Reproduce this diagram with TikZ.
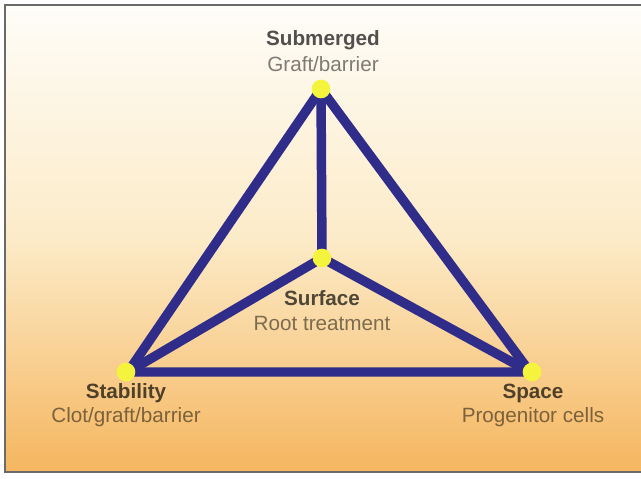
\documentclass[tikz,border=0pt]{standalone}
\usepackage{fontspec}
\setmainfont{Liberation Sans}
\definecolor{navy}{HTML}{302C8A}
\definecolor{dotyellow}{HTML}{F4F43C}
\definecolor{bgtop}{HTML}{FEFDF8}
\definecolor{bgmid}{HTML}{FCEBC8}
\definecolor{bgbot}{HTML}{F5B65F}
\definecolor{framegray}{HTML}{6A6A6A}
\tikzset{
  edge/.style={draw=navy, line width=7.1pt, line join=miter},
  vdot/.style={circle, fill=dotyellow, minimum size=14pt, inner sep=0pt},
  title/.style={font=\fontsize{15.5}{18}\selectfont\bfseries, text=black, text opacity=0.68},
  sub/.style={font=\fontsize{15.5}{18}\selectfont, text=black, text opacity=0.5}
}
\begin{document}
\begin{tikzpicture}[x=0.75pt,y=-0.75pt]
\useasboundingbox (0,0) rectangle (641,478);
\clip (0,0) rectangle (641,478);
\fill[white] (0,0) rectangle (641,478);
\shade[top color=bgtop, bottom color=bgbot, middle color=bgmid] (5,5) rectangle (648,472);
\draw[framegray, line width=1.5pt] (5,5) rectangle (648,472);
% vertices
\coordinate (T) at (321,89);
\coordinate (C) at (322,258);
\coordinate (L) at (128,372);
\coordinate (R) at (530,372);
% edges
\draw[edge] (L) -- (T) -- (R) -- cycle;
\draw[edge] (T) -- (C);
\draw[edge] (L) -- (C) -- (R);
% dots
\node[vdot] (dT) at (T) {};
\node[vdot] (dC) at (C) {};
\node[vdot] (dL) at (126,372) {};
\node[vdot] (dR) at (532,372) {};
% labels
\node[title] (tT) at (323,40) {Submerged};
\node[sub] (sT) at (323,64) {Graft/barrier};
\node[title] (tC) at (322,298) {Surface};
\node[sub] (sC) at (322,323) {Root treatment};
\node[title] (tL) at (126,393) {Stability};
\node[sub] (sL) at (126,417) {Clot/graft/barrier};
\node[title] (tR) at (533,393) {Space};
\node[sub] (sR) at (533,417) {Progenitor cells};
\end{tikzpicture}
\end{document}
